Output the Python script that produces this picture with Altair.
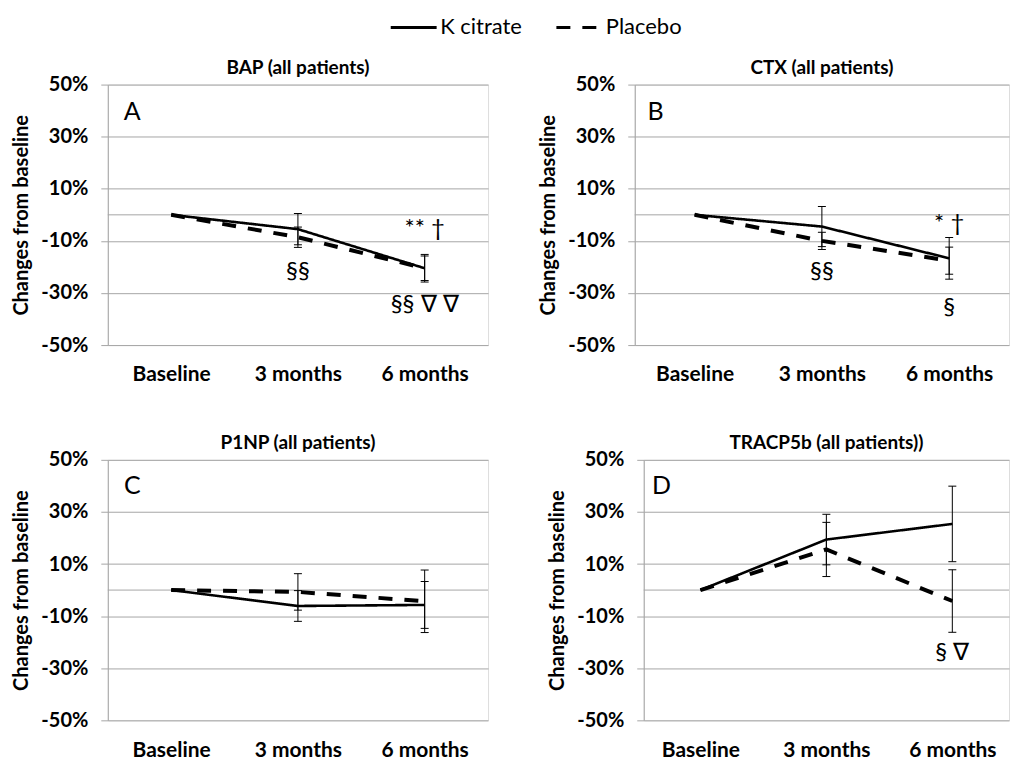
import altair as alt
import pandas as pd

# ---------------- data ----------------
timepoints = ["Baseline", "3 months", "6 months"]
groups = ["K citrate", "Placebo"]
panel_ids = ["A", "B", "C", "D"]
panel_titles = ["BAP (all patients)", "CTX (all patients)",
                "P1NP (all patients)", "TRACP5b (all patients))"]

# mean change from baseline (%) per panel
kcit_A = [0, -5.5, -20.5]
kcit_B = [0, -4.5, -16.7]
kcit_C = [0, -6.1, -5.7]
kcit_D = [0, 19.4, 25.4]
plac_A = [0, -8.6, -20.5]
plac_B = [0, -10.0, -17.6]
plac_C = [0, -0.7, -4.3]
plac_D = [0, 15.6, -4.2]

# error (+/-) per time point (baseline: none)
kcit_err_A = [None, 6.0, 4.7]
kcit_err_B = [None, 7.7, 8.0]
kcit_err_C = [None, 5.9, 9.0]
kcit_err_D = [None, 9.7, 14.5]
plac_err_A = [None, 3.9, 5.3]
plac_err_B = [None, 3.3, 5.2]
plac_err_C = [None, 7.0, 12.0]
plac_err_D = [None, 10.4, 12.0]

# significance annotations
ann_panel = ["A", "A", "A", "B", "B", "B", "D"]
ann_time = ["3 months", "6 months", "6 months", "3 months", "6 months", "6 months", "6 months"]
ann_value = [-22.0, -5.5, -34.7, -22.0, -3.5, -35.8, -24.3]
ann_text = ["§§", "** †", "§§ ∇ ∇", "§§", "* †", "§", "§ ∇"]

# panel letters
letter_value = [39.5, 39.5, 40.0, 40.0]

kcit = {"A": kcit_A, "B": kcit_B, "C": kcit_C, "D": kcit_D}
plac = {"A": plac_A, "B": plac_B, "C": plac_C, "D": plac_D}
kcit_err = {"A": kcit_err_A, "B": kcit_err_B, "C": kcit_err_C, "D": kcit_err_D}
plac_err = {"A": plac_err_A, "B": plac_err_B, "C": plac_err_C, "D": plac_err_D}

rows = []
for p in panel_ids:
    for g, vals, errs in [("K citrate", kcit[p], kcit_err[p]), ("Placebo", plac[p], plac_err[p])]:
        for t, v, e in zip(timepoints, vals, errs):
            rows.append({"panel": p, "time": t, "group": g, "value": v,
                         "err": e,
                         "lo": None if e is None else v - e,
                         "hi": None if e is None else v + e})
df = pd.DataFrame(rows)
ann_df = pd.DataFrame({"panel": ann_panel, "time": ann_time, "value": ann_value, "text": ann_text})

FONT = "Lato"
GRID = "#a6a6a6"

dash_scale = alt.Scale(domain=groups, range=[[1, 0], [14, 12]])


def panel(idx, pad, width, show_legend):
    p = panel_ids[idx]
    d = df[df.panel == p]
    derr = d[d.err.notna()]
    a = ann_df[ann_df.panel == p]
    letter = pd.DataFrame({"time": ["Baseline"], "value": [letter_value[idx]], "text": [p]})

    x = alt.X("time:N", sort=timepoints,
              scale=alt.Scale(type="point", padding=pad, domain=timepoints),
              axis=alt.Axis(title=None, domain=False, ticks=False, grid=False,
                            labelFont=FONT, labelFontSize=21, labelFontWeight="bold",
                            labelColor="black", labelPadding=19, labelAngle=0))
    y = alt.Y("value:Q", scale=alt.Scale(domain=[-50, 50], nice=False, zero=False),
              axis=alt.Axis(title="Changes from baseline", values=[-50, -30, -10, 10, 30, 50],
                            labelExpr="datum.value + '%'",
                            labelFont=FONT, labelFontSize=20, labelFontWeight="bold",
                            labelColor="black", labelPadding=13,
                            tickSize=7, tickColor=GRID, domainColor=GRID,
                            grid=True, gridColor=GRID, gridWidth=1,
                            titleFont=FONT, titleFontSize=20, titleFontWeight="bold",
                            titleColor="black", titlePadding=9))

    if show_legend:
        legend = alt.Legend(orient="none", legendX=282, legendY=-82, direction="horizontal",
                            title=None, symbolType="stroke", symbolSize=2116,
                            symbolStrokeWidth=3, symbolStrokeColor="black",
                            labelFont=FONT, labelFontSize=22, labelColor="black",
                            columnPadding=28, labelOffset=2)
    else:
        legend = None

    dash = alt.StrokeDash("group:N", scale=dash_scale, legend=legend)

    base = alt.Chart(d)
    zero = alt.Chart(letter).mark_rule(color=GRID, strokeWidth=1).encode(y=alt.datum(0))
    line_p = base.transform_filter(alt.datum.group == "Placebo").mark_line(
        color="black", strokeWidth=4).encode(x=x, y=y, strokeDash=dash)
    line_k = base.transform_filter(alt.datum.group == "K citrate").mark_line(
        color="black", strokeWidth=2.6).encode(x=x, y=y, strokeDash=dash)

    eb = alt.Chart(derr)
    rule = eb.mark_rule(color="black", strokeWidth=1).encode(x=x, y="lo:Q", y2="hi:Q")
    cap_lo = eb.mark_tick(color="black", size=8, thickness=1, opacity=1).encode(x=x, y="lo:Q")
    cap_hi = eb.mark_tick(color="black", size=8, thickness=1, opacity=1).encode(x=x, y="hi:Q")

    layers = [zero, line_p, line_k, rule, cap_lo, cap_hi]
    if len(a):
        layers.append(alt.Chart(a).mark_text(font=FONT, fontSize=24, color="black",
                                             baseline="middle").encode(x=x, y="value:Q", text="text:N"))
    layers.append(alt.Chart(letter).mark_text(font=FONT, fontSize=25, color="black",
                                              baseline="middle", dx=-39).encode(
        x=x, y="value:Q", text="text:N"))

    return alt.layer(*layers).properties(
        width=width, height=261,
        title=alt.TitleParams(panel_titles[idx], font=FONT, fontSize=19, fontWeight="bold",
                              color="black", frame="group", anchor="middle", offset=-3),
    )


A = panel(0, 0.5, 381, True)
B = panel(1, 0.47, 375, False)
C = panel(2, 0.5, 381, False)
D = panel(3, 0.45, 366, False)

row1 = alt.hconcat(A, B, spacing=147, bounds="flush")
row2 = alt.hconcat(C, D, spacing=156, bounds="flush")

chart = alt.vconcat(row1, row2, spacing=47).properties(
    padding={"left": 11, "top": 2, "right": 2, "bottom": 0}
).configure_view(stroke=None).configure(background="white")

chart.save("out.html", embed_options={"renderer": "svg", "actions": False})
